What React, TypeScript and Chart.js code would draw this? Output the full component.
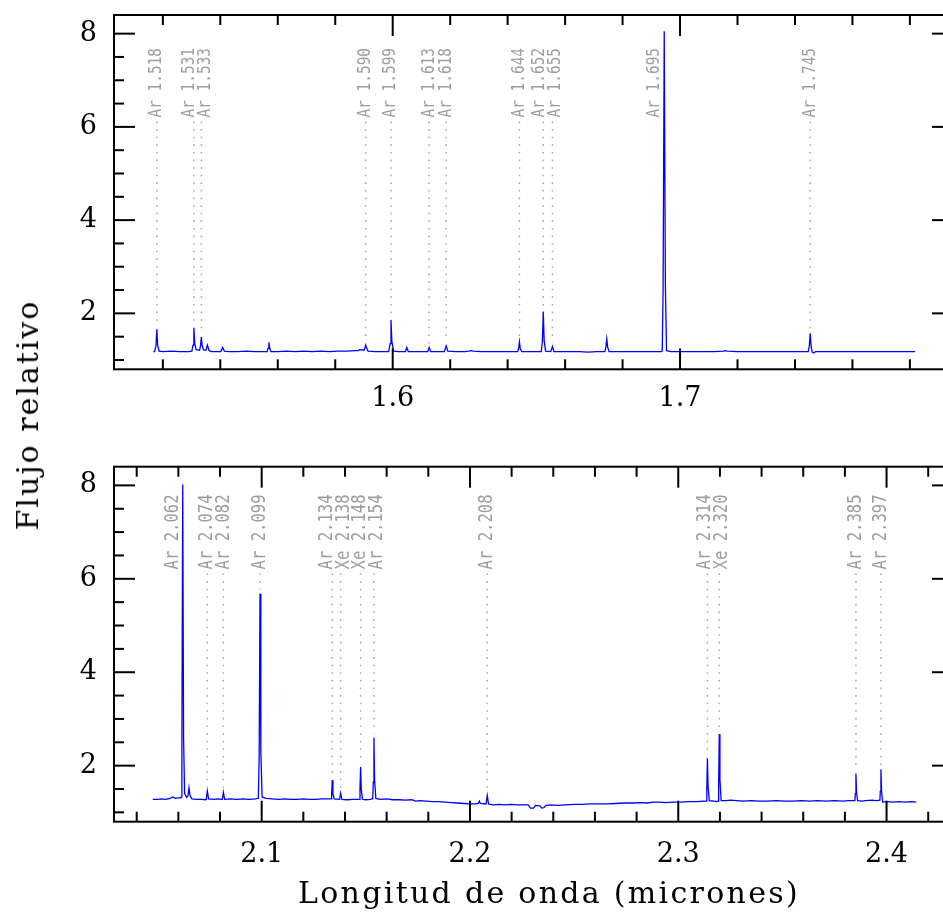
import React, { useEffect, useRef } from 'react';
import { Chart, registerables } from 'chart.js';

Chart.register(...registerables);

// ---------- data ----------
const topSpectrum: [number, number][] = [
  [1.5167, 1.18], [1.5171, 1.18], [1.5176, 1.30], [1.5179, 1.66], [1.5182, 1.32], [1.5187, 1.19],
  [1.5200, 1.18], [1.5230, 1.19], [1.5260, 1.18], [1.5290, 1.18],
  [1.5301, 1.19], [1.5305, 1.32], [1.5308, 1.69], [1.5311, 1.35], [1.5316, 1.22],
  [1.5328, 1.21], [1.5331, 1.30], [1.5334, 1.49], [1.5337, 1.30], [1.5342, 1.21],
  [1.5350, 1.21], [1.5355, 1.32], [1.5361, 1.20],
  [1.5370, 1.18], [1.5395, 1.18],
  [1.5402, 1.18], [1.5408, 1.27], [1.5414, 1.19],
  [1.5430, 1.18], [1.5460, 1.18], [1.5490, 1.19], [1.5520, 1.18], [1.5550, 1.18],
  [1.5563, 1.18], [1.5566, 1.25], [1.5569, 1.38], [1.5572, 1.25], [1.5576, 1.18],
  [1.5600, 1.18], [1.5630, 1.19], [1.5660, 1.18], [1.5690, 1.19], [1.5720, 1.18], [1.5750, 1.19],
  [1.5780, 1.18], [1.5810, 1.19], [1.5840, 1.19], [1.5870, 1.20],
  [1.5880, 1.20], [1.5886, 1.22],
  [1.5900, 1.21], [1.5903, 1.25], [1.5906, 1.32], [1.5909, 1.26], [1.5914, 1.19],
  [1.5940, 1.18], [1.5970, 1.18],
  [1.5986, 1.18], [1.5991, 1.35], [1.5994, 1.86], [1.5997, 1.40], [1.6003, 1.19],
  [1.6020, 1.18], [1.6040, 1.18],
  [1.6044, 1.18], [1.6049, 1.27], [1.6054, 1.18],
  [1.6080, 1.18], [1.6110, 1.18],
  [1.6122, 1.18], [1.6127, 1.27], [1.6132, 1.18],
  [1.6150, 1.18],
  [1.6180, 1.18], [1.6186, 1.30], [1.6192, 1.19],
  [1.6220, 1.18], [1.6250, 1.18],
  [1.6265, 1.19], [1.6272, 1.20], [1.6280, 1.19],
  [1.6310, 1.18], [1.6350, 1.18], [1.6380, 1.18], [1.6410, 1.18],
  [1.6435, 1.18], [1.6438, 1.24], [1.6441, 1.39], [1.6444, 1.24], [1.6449, 1.18],
  [1.6480, 1.18], [1.6500, 1.18],
  [1.6517, 1.18], [1.6521, 1.40], [1.6524, 2.04], [1.6527, 1.42], [1.6532, 1.19],
  [1.6550, 1.18], [1.6556, 1.29], [1.6561, 1.18],
  [1.6590, 1.18], [1.6620, 1.18], [1.6650, 1.18], [1.6680, 1.17], [1.6710, 1.18],
  [1.6738, 1.18], [1.6742, 1.27], [1.6745, 1.45], [1.6748, 1.28], [1.6753, 1.18],
  [1.6780, 1.18], [1.6820, 1.18], [1.6860, 1.18], [1.6900, 1.18], [1.6935, 1.18],
  [1.6938, 1.19], [1.6941, 2.50], [1.6945, 8.05], [1.6949, 2.60], [1.6953, 1.20],
  [1.6970, 1.18], [1.7000, 1.18], [1.7040, 1.18], [1.7080, 1.18], [1.7120, 1.18], [1.7150, 1.19],
  [1.7157, 1.20], [1.7165, 1.19],
  [1.7200, 1.18], [1.7250, 1.18], [1.7300, 1.18], [1.7350, 1.18], [1.7400, 1.18], [1.7430, 1.18],
  [1.7446, 1.18], [1.7450, 1.30], [1.7453, 1.57], [1.7456, 1.30], [1.7460, 1.17],
  [1.7465, 1.15], [1.7472, 1.18],
  [1.7500, 1.18], [1.7550, 1.18], [1.7600, 1.18], [1.7650, 1.18], [1.7700, 1.18], [1.7750, 1.18], [1.7818, 1.18],
];

const bottomSpectrum: [number, number][] = [
  [2.0477, 1.28], [2.0500, 1.28], [2.0520, 1.29], [2.0540, 1.28], [2.0560, 1.30],
  [2.0573, 1.33], [2.0585, 1.30], [2.0600, 1.31], [2.0612, 1.31],
  [2.0614, 1.33], [2.0617, 2.50], [2.0621, 8.02], [2.0625, 2.60], [2.0630, 1.40],
  [2.0640, 1.32],
  [2.0646, 1.35], [2.0651, 1.53], [2.0656, 1.36],
  [2.0665, 1.29], [2.0690, 1.28], [2.0710, 1.28], [2.0730, 1.27],
  [2.0734, 1.28], [2.0739, 1.46], [2.0745, 1.29],
  [2.0770, 1.28], [2.0790, 1.29], [2.0808, 1.28],
  [2.0811, 1.28], [2.0816, 1.43], [2.0822, 1.28],
  [2.0850, 1.29], [2.0880, 1.28], [2.0910, 1.29], [2.0940, 1.28], [2.0970, 1.29], [2.0980, 1.30],
  [2.0984, 1.30], [2.0988, 2.20], [2.0992, 5.68], [2.0996, 2.30], [2.1002, 1.33],
  [2.1020, 1.30], [2.1050, 1.29], [2.1080, 1.28], [2.1110, 1.29], [2.1140, 1.28], [2.1170, 1.28],
  [2.1200, 1.29], [2.1230, 1.28], [2.1260, 1.28], [2.1290, 1.29], [2.1320, 1.29],
  [2.1333, 1.29], [2.1336, 1.40], [2.1339, 1.69], [2.1342, 1.40], [2.1348, 1.29],
  [2.1374, 1.28], [2.1379, 1.41], [2.1385, 1.28],
  [2.1410, 1.27], [2.1440, 1.28], [2.1465, 1.28],
  [2.1469, 1.28], [2.1472, 1.50], [2.1475, 1.97], [2.1478, 1.50], [2.1484, 1.28],
  [2.1500, 1.27], [2.1520, 1.28], [2.1530, 1.29],
  [2.1533, 1.30], [2.1536, 1.65], [2.1539, 2.60], [2.1542, 1.70], [2.1548, 1.30],
  [2.1570, 1.28], [2.1600, 1.29], [2.1630, 1.27], [2.1660, 1.27], [2.1690, 1.26], [2.1720, 1.27],
  [2.1740, 1.24], [2.1760, 1.25], [2.1790, 1.24], [2.1820, 1.23], [2.1850, 1.23], [2.1880, 1.22],
  [2.1910, 1.21], [2.1940, 1.20], [2.1970, 1.19], [2.2000, 1.18], [2.2030, 1.18],
  [2.2040, 1.19], [2.2045, 1.24], [2.2050, 1.19],
  [2.2077, 1.18], [2.2083, 1.36], [2.2089, 1.18],
  [2.2110, 1.16], [2.2140, 1.17], [2.2170, 1.16], [2.2200, 1.17], [2.2230, 1.16], [2.2260, 1.16], [2.2280, 1.16],
  [2.2290, 1.09], [2.2305, 1.09], [2.2315, 1.15], [2.2335, 1.14], [2.2345, 1.09], [2.2355, 1.10], [2.2365, 1.15],
  [2.2390, 1.16], [2.2420, 1.15], [2.2460, 1.16], [2.2500, 1.17], [2.2540, 1.17], [2.2580, 1.18],
  [2.2620, 1.18], [2.2660, 1.18], [2.2700, 1.19], [2.2740, 1.20], [2.2780, 1.20], [2.2820, 1.21],
  [2.2850, 1.20], [2.2880, 1.22], [2.2910, 1.22], [2.2940, 1.21], [2.2970, 1.22], [2.3010, 1.22],
  [2.3050, 1.23], [2.3090, 1.23], [2.3120, 1.24],
  [2.3134, 1.24], [2.3137, 1.50], [2.3140, 2.16], [2.3143, 1.55], [2.3149, 1.25],
  [2.3170, 1.24], [2.3188, 1.23],
  [2.3191, 1.24], [2.3194, 1.65], [2.3197, 2.68], [2.3200, 1.70], [2.3206, 1.25],
  [2.3230, 1.25], [2.3250, 1.26], [2.3280, 1.25], [2.3310, 1.24], [2.3350, 1.25], [2.3390, 1.24],
  [2.3430, 1.24], [2.3470, 1.25], [2.3510, 1.24], [2.3550, 1.24], [2.3590, 1.25], [2.3630, 1.24],
  [2.3670, 1.25], [2.3710, 1.24], [2.3750, 1.25], [2.3790, 1.24], [2.3820, 1.25], [2.3840, 1.25],
  [2.3848, 1.25], [2.3850, 1.40], [2.3853, 1.83], [2.3856, 1.42], [2.3861, 1.25],
  [2.3880, 1.24], [2.3900, 1.25], [2.3930, 1.26], [2.3950, 1.25],
  [2.3968, 1.26], [2.3970, 1.45], [2.3973, 1.92], [2.3976, 1.45], [2.3981, 1.22],
  [2.4000, 1.23], [2.4030, 1.22], [2.4060, 1.23], [2.4090, 1.22], [2.4120, 1.23], [2.4142, 1.22],
];

const topLineWaves = [1.5179, 1.5308, 1.5334, 1.5906, 1.5994, 1.6127, 1.6186, 1.6441, 1.6524, 1.6556, 1.6945, 1.7453];
const topLineLabels = ['Ar 1.518', 'Ar 1.531', 'Ar 1.533', 'Ar 1.590', 'Ar 1.599', 'Ar 1.613', 'Ar 1.618', 'Ar 1.644', 'Ar 1.652', 'Ar 1.655', 'Ar 1.695', 'Ar 1.745'];

const bottomLineWaves = [2.0621, 2.0739, 2.0816, 2.0992, 2.1339, 2.1379, 2.1475, 2.1539, 2.2083, 2.3140, 2.3197, 2.3853, 2.3973];
const bottomLineLabels = ['Ar 2.062', 'Ar 2.074', 'Ar 2.082', 'Ar 2.099', 'Ar 2.134', 'Xe 2.138', 'Xe 2.148', 'Ar 2.154', 'Ar 2.208', 'Ar 2.314', 'Xe 2.320', 'Ar 2.385', 'Ar 2.397'];

const yTickValues = [2, 4, 6, 8];
const yMinorTicks = [1, 1.5, 2.5, 3, 3.5, 4.5, 5, 5.5, 6.5, 7, 7.5];
const topXTicks = [1.6, 1.7];
const topXMinor = [1.52, 1.54, 1.56, 1.58, 1.62, 1.64, 1.66, 1.68, 1.72, 1.74, 1.76, 1.78];
const bottomXTicks = [2.1, 2.2, 2.3, 2.4];
const bottomXMinor = [2.04, 2.06, 2.08, 2.12, 2.14, 2.16, 2.18, 2.22, 2.24, 2.26, 2.28, 2.32, 2.34, 2.36, 2.38, 2.42];

const LABEL_LEVEL = 6.2;
const SERIF = '"DejaVu Serif", serif';
const MONO = '"DejaVu Sans Mono", monospace';

type Panel = {
  spectrum: [number, number][];
  lineWaves: number[];
  lineLabels: string[];
  xMin: number;
  xMax: number;
  xTicks: number[];
  xMinor: number[];
  padTop: number;
  xAxisHeight: number;
  xTickPad: number;
  labelFont: number;
  labelScale: number;
  labelGap: number;
};

function spread(px: number[], gap: number): number[] {
  let clusters = px.map((p, i) => ({ idx: [i], center: p }));
  let changed = true;
  while (changed) {
    changed = false;
    for (let k = 0; k < clusters.length - 1; k++) {
      const a = clusters[k];
      const b = clusters[k + 1];
      const aEnd = a.center + ((a.idx.length - 1) * gap) / 2;
      const bStart = b.center - ((b.idx.length - 1) * gap) / 2;
      if (bStart - aEnd < gap) {
        const idx = a.idx.concat(b.idx);
        const center = idx.reduce((s, i) => s + px[i], 0) / idx.length;
        clusters.splice(k, 2, { idx, center });
        changed = true;
        break;
      }
    }
  }
  const out = new Array(px.length).fill(0);
  clusters.forEach((c) => {
    const n = c.idx.length;
    c.idx.forEach((i, j) => {
      out[i] = c.center + (j - (n - 1) / 2) * gap;
    });
  });
  return out;
}

function makeConfig(p: Panel): any {
  const framePlugin = {
    id: 'frameTicks',
    beforeDatasetsDraw(chart: any) {
      const { ctx, scales } = chart;
      const x = scales.x;
      const y = scales.y;
      const px = p.lineWaves.map((w) => x.getPixelForValue(w));
      const pos = spread(px, p.labelGap);
      const yLab = y.getPixelForValue(LABEL_LEVEL);
      p.lineWaves.forEach((w, i) => {
        let peak = 0;
        p.spectrum.forEach(([sx, sy]) => {
          if (Math.abs(sx - w) < 0.0008 && sy > peak) peak = sy;
        });
        const tall = peak > LABEL_LEVEL;
        if (!tall) {
          ctx.save();
          ctx.strokeStyle = '#a8a8a8';
          ctx.lineWidth = 1.5;
          ctx.setLineDash([1.6, 6]);
          ctx.beginPath();
          ctx.moveTo(px[i], yLab + 4);
          ctx.lineTo(px[i], y.getPixelForValue(peak) - 4);
          ctx.stroke();
          ctx.restore();
        }
        ctx.save();
        ctx.translate(pos[i] + (tall ? -10 : 0), yLab);
        ctx.rotate(-Math.PI / 2);
        ctx.scale(p.labelScale, 1);
        ctx.font = `${p.labelFont}px ${MONO}`;
        ctx.fillStyle = '#9e9e9e';
        ctx.textAlign = 'left';
        ctx.textBaseline = 'middle';
        ctx.fillText(p.lineLabels[i], 0, 0);
        ctx.restore();
      });
    },
    afterDatasetsDraw(chart: any) {
      const { ctx, chartArea, scales } = chart;
      const { left, right, top, bottom } = chartArea;
      const x = scales.x;
      const y = scales.y;
      ctx.save();
      ctx.strokeStyle = '#000';
      ctx.lineWidth = 2;
      ctx.setLineDash([]);
      const seg = (x1: number, y1: number, x2: number, y2: number) => {
        ctx.beginPath();
        ctx.moveTo(x1, y1);
        ctx.lineTo(x2, y2);
        ctx.stroke();
      };
      p.xTicks.forEach((v) => {
        const q = x.getPixelForValue(v);
        seg(q, bottom, q, bottom - 21);
        seg(q, top, q, top + 21);
      });
      p.xMinor.forEach((v) => {
        const q = x.getPixelForValue(v);
        seg(q, bottom, q, bottom - 10);
        seg(q, top, q, top + 10);
      });
      yTickValues.forEach((v) => {
        const q = y.getPixelForValue(v);
        seg(left, q, left + 21, q);
        seg(right, q, right - 21, q);
      });
      yMinorTicks.forEach((v) => {
        const q = y.getPixelForValue(v);
        seg(left, q, left + 10, q);
        seg(right, q, right - 10, q);
      });
      ctx.strokeRect(left, top, right - left, bottom - top);
      ctx.restore();
    },
  };

  return {
    type: 'line',
    data: {
      datasets: [
        {
          data: p.spectrum.map(([sx, sy]) => ({ x: sx, y: sy })),
          borderColor: '#0000ff',
          borderWidth: 1.3,
          pointRadius: 0,
          fill: false,
          tension: 0,
        },
      ],
    },
    options: {
      animation: false,
      responsive: false,
      devicePixelRatio: 1,
      events: [],
      layout: { padding: { top: p.padTop, right: 7, left: 0, bottom: 0 } },
      plugins: { legend: { display: false }, tooltip: { enabled: false } },
      scales: {
        x: {
          type: 'linear',
          min: p.xMin,
          max: p.xMax,
          grid: { display: false, drawTicks: false },
          border: { display: false },
          ticks: {
            font: { family: SERIF, size: 27 },
            color: '#000',
            padding: p.xTickPad,
            maxRotation: 0,
            callback: (v: number) => v.toFixed(1),
          },
          afterBuildTicks: (s: any) => {
            s.ticks = p.xTicks.map((v) => ({ value: v }));
          },
          afterFit: (s: any) => {
            s.height = p.xAxisHeight;
            s.paddingLeft = 0;
            s.paddingRight = 0;
            s.paddingTop = 0;
            s.paddingBottom = 0;
          },
        },
        y: {
          type: 'linear',
          min: 0.8,
          max: 8.4,
          grid: { display: false, drawTicks: false },
          border: { display: false },
          ticks: {
            font: { family: SERIF, size: 27 },
            color: '#000',
            padding: 17,
            callback: (v: number) => String(v),
          },
          afterBuildTicks: (s: any) => {
            s.ticks = yTickValues.map((v) => ({ value: v }));
          },
          afterFit: (s: any) => {
            s.width = 114;
            s.paddingLeft = 0;
            s.paddingRight = 0;
            s.paddingTop = 0;
            s.paddingBottom = 0;
          },
        },
      },
    },
    plugins: [framePlugin],
  };
}

const topPanel: Panel = {
  spectrum: topSpectrum,
  lineWaves: topLineWaves,
  lineLabels: topLineLabels,
  xMin: 1.503,
  xMax: 1.795,
  xTicks: topXTicks,
  xMinor: topXMinor,
  padTop: 15,
  xAxisHeight: 50.7,
  xTickPad: 13,
  labelFont: 17,
  labelScale: 0.85,
  labelGap: 16,
};

const bottomPanel: Panel = {
  spectrum: bottomSpectrum,
  lineWaves: bottomLineWaves,
  lineLabels: bottomLineLabels,
  xMin: 2.0291,
  xMax: 2.4319,
  xTicks: bottomXTicks,
  xMinor: bottomXMinor,
  padTop: 46.7,
  xAxisHeight: 100.3,
  xTickPad: 17,
  labelFont: 19,
  labelScale: 0.82,
  labelGap: 16.6,
};

function PanelChart({ panel, top, height }: { panel: Panel; top: number; height: number }) {
  const ref = useRef<HTMLCanvasElement | null>(null);
  useEffect(() => {
    if (!ref.current) return;
    const chart = new Chart(ref.current, makeConfig(panel));
    return () => chart.destroy();
  }, [panel]);
  return (
    <canvas
      ref={ref}
      width={960}
      height={height}
      style={{ position: 'absolute', left: 0, top, width: 960, height, display: 'block' }}
    />
  );
}

export default function App() {
  useEffect(() => {
    document.body.style.overflow = 'hidden';
    document.documentElement.style.overflow = 'hidden';
  }, []);
  return (
    <div
      style={{
        position: 'absolute',
        left: 0,
        top: 0,
        width: 943,
        height: 922,
        overflow: 'hidden',
        background: '#fff',
      }}
    >
      <PanelChart panel={topPanel} top={0} height={420} />
      <PanelChart panel={bottomPanel} top={420} height={502} />
      <div
        style={{
          position: 'absolute',
          left: 28,
          top: 415,
          transform: 'translate(-50%, -50%) rotate(-90deg)',
          fontFamily: SERIF,
          fontSize: 30,
          lineHeight: '30px',
          whiteSpace: 'nowrap',
          letterSpacing: 2,
          color: '#000',
        }}
      >
        Flujo relativo
      </div>
      <div
        style={{
          position: 'absolute',
          left: 549,
          top: 878,
          transform: 'translateX(-50%)',
          fontFamily: SERIF,
          fontSize: 30,
          lineHeight: '30px',
          whiteSpace: 'nowrap',
          letterSpacing: 2.3,
          color: '#000',
        }}
      >
        Longitud de onda (micrones)
      </div>
    </div>
  );
}
